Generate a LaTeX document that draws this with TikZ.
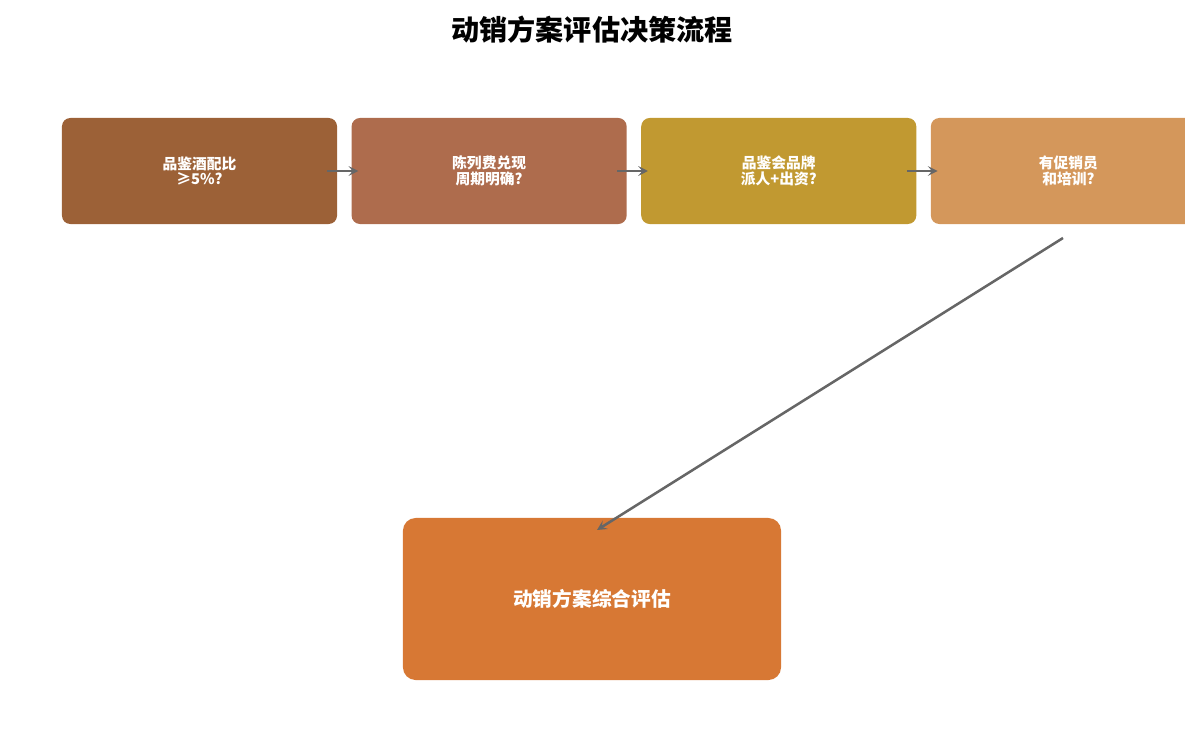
\documentclass[tikz,border=0pt]{standalone}
\usepackage{fontspec}
\setmainfont{Noto Sans CJK SC}
\usetikzlibrary{positioning,arrows.meta}
\definecolor{cA}{HTML}{9C6137}
\definecolor{cB}{HTML}{AE6C4D}
\definecolor{cC}{HTML}{C19931}
\definecolor{cD}{HTML}{D4975B}
\definecolor{cE}{HTML}{D77834}
\definecolor{arrowgray}{HTML}{666666}
\begin{document}
\begin{tikzpicture}[
	x=0.025cm, y=-0.025cm,
	node distance = 0.35cm,
	stepnode/.style={rectangle, rounded corners=6pt, minimum width=6.875cm, minimum height=2.65cm, text=white, font=\bfseries\fontsize{10.5}{10}\selectfont, align=center, inner sep=0pt},
	endnode/.style={rectangle, rounded corners=9pt, minimum width=9.45cm, minimum height=4.05cm, text=white, font=\bfseries\fontsize{14}{16}\selectfont, fill=cE},
	flow/.style={-{Stealth[length=7pt,width=7pt,inset=3pt]}, draw=arrowgray, line width=1.8pt},
	]
	\useasboundingbox (0,0) rectangle (1185,735);
	%Title
	\node[font=\bfseries\fontsize{20}{24}\selectfont] (title) at (592,30) {动销方案评估决策流程};
	%Nodes
	\node[stepnode, fill=cA] (ratio) at (199.5,171) {品鉴酒配比\\≥5\%?};
	\node[stepnode, fill=cB] (fee)     [right=of ratio] {陈列费兑现\\周期明确?};
	\node[stepnode, fill=cC] (tasting) [right=of fee] {品鉴会品牌\\派人+出资?};
	\node[stepnode, fill=cD] (staff)   [right=of tasting] {有促销员\\和培训?};
	\node[endnode] (eval) at (592,599) {动销方案综合评估};
	\coordinate (from) at (1063,238);
	\coordinate (to) at (597,530);
	%Lines
	\draw[flow, shorten <=-7pt, shorten >=-5pt] (ratio) -- (fee);
	\draw[flow, shorten <=-7pt, shorten >=-5pt] (fee) -- (tasting);
	\draw[flow, shorten <=-7pt, shorten >=-5pt] (tasting) -- (staff);
	\draw[flow] (from) -- (to);
\end{tikzpicture}
\end{document}
